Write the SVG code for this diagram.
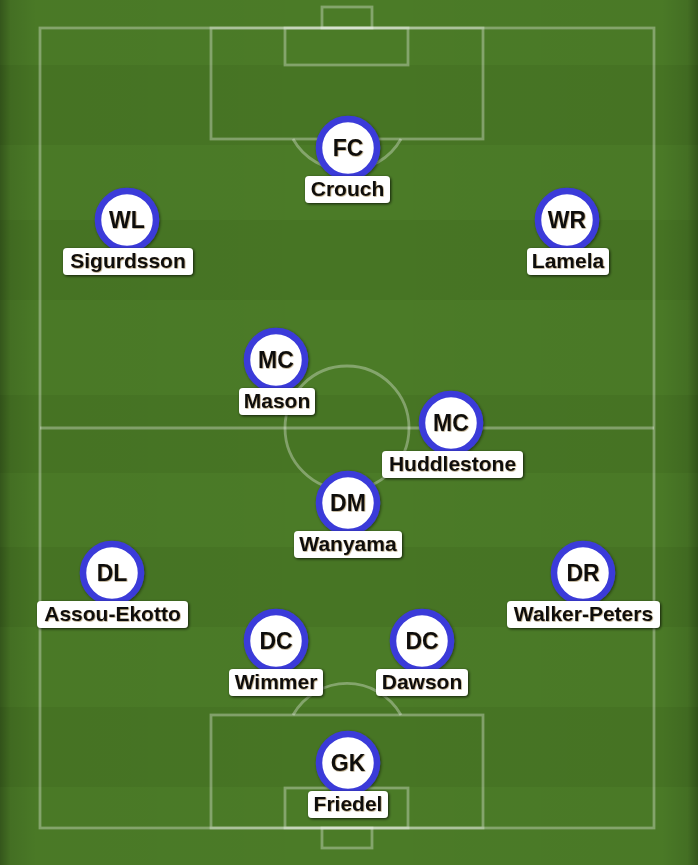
<svg xmlns="http://www.w3.org/2000/svg" width="698" height="865" viewBox="0 0 698 865">
<defs>
<style>
.line{fill:none;stroke:#ffffff;stroke-opacity:0.32;stroke-width:2.8}
.ring{fill:#ffffff;stroke:#3b3bd9;stroke-width:6.5}
.pos{font-family:"Liberation Sans",Arial,sans-serif;font-weight:bold;font-size:23px;fill:#111;text-anchor:middle}
.box{fill:#ffffff}
.name{font-family:"Liberation Sans",Arial,sans-serif;font-weight:bold;font-size:21px;fill:#111;text-anchor:middle}
.sa{fill:#4b7b27}
.sb{fill:#477524}
</style>
<linearGradient id="edge" x1="0" y1="0" x2="1" y2="0">
<stop offset="0" stop-color="#000" stop-opacity="0.3"/>
<stop offset="0.015" stop-color="#000" stop-opacity="0.1"/>
<stop offset="0.05" stop-color="#000" stop-opacity="0.02"/>
<stop offset="0.5" stop-color="#000" stop-opacity="0"/>
<stop offset="0.95" stop-color="#000" stop-opacity="0.02"/>
<stop offset="0.985" stop-color="#000" stop-opacity="0.1"/>
<stop offset="1" stop-color="#000" stop-opacity="0.3"/>
</linearGradient>
<filter id="sh" x="-20%" y="-40%" width="140%" height="180%">
<feDropShadow dx="1" dy="1" stdDeviation="1.5" flood-color="#000" flood-opacity="0.75"/>
</filter>
<filter id="rs" x="-20%" y="-20%" width="140%" height="140%">
<feDropShadow dx="1" dy="1" stdDeviation="1.5" flood-color="#000" flood-opacity="0.5"/>
</filter>
<filter id="ts" x="-10%" y="-10%" width="120%" height="130%">
<feDropShadow dx="0.6" dy="0.6" stdDeviation="0.4" flood-color="#640" flood-opacity="0.6"/>
</filter>
</defs>
<g id="pitch">
<rect x="0" y="0" width="698" height="865" class="sa"/>
<rect x="0" y="65" width="698" height="80" class="sb"/>
<rect x="0" y="220" width="698" height="80" class="sb"/>
<rect x="0" y="395" width="698" height="78" class="sb"/>
<rect x="0" y="547" width="698" height="80" class="sb"/>
<rect x="0" y="707" width="698" height="80" class="sb"/>
<rect x="0" y="0" width="698" height="865" fill="url(#edge)"/>
<rect x="40" y="28" width="614" height="800" class="line"/>
<line x1="40" y1="428" x2="654" y2="428" class="line"/>
<circle cx="347" cy="428" r="62" class="line"/>
<rect x="211" y="28" width="272" height="111" class="line"/>
<rect x="285" y="28" width="123" height="37" class="line"/>
<rect x="322" y="7" width="50" height="21" class="line"/>
<path d="M293,139 A62,62 0 0 0 401,139" class="line"/>
<rect x="211" y="715" width="272" height="113" class="line"/>
<rect x="285" y="788" width="123" height="40" class="line"/>
<rect x="322" y="828" width="50" height="20" class="line"/>
<path d="M293,715 A62,62 0 0 1 401,715" class="line"/>
</g>
<g id="connectors"></g>
<g id="fc"><circle cx="348" cy="148" r="29" class="ring" filter="url(#rs)"/><text x="348" y="156" class="pos" filter="url(#ts)">FC</text><rect x="305" y="176" width="85" height="27" rx="4" class="box" filter="url(#sh)"/><text x="347.5" y="196" class="name" filter="url(#ts)">Crouch</text></g>
<g id="wl"><circle cx="127" cy="220" r="29" class="ring" filter="url(#rs)"/><text x="127" y="228" class="pos" filter="url(#ts)">WL</text><rect x="63" y="248" width="130" height="27" rx="4" class="box" filter="url(#sh)"/><text x="128" y="268" class="name" filter="url(#ts)">Sigurdsson</text></g>
<g id="wr"><circle cx="567" cy="220" r="29" class="ring" filter="url(#rs)"/><text x="567" y="228" class="pos" filter="url(#ts)">WR</text><rect x="527" y="248" width="82" height="27" rx="4" class="box" filter="url(#sh)"/><text x="568" y="268" class="name" filter="url(#ts)">Lamela</text></g>
<g id="mcl"><circle cx="276" cy="360" r="29" class="ring" filter="url(#rs)"/><text x="276" y="368" class="pos" filter="url(#ts)">MC</text><rect x="239" y="388" width="76" height="27" rx="4" class="box" filter="url(#sh)"/><text x="277" y="408" class="name" filter="url(#ts)">Mason</text></g>
<g id="mcr"><circle cx="451" cy="423" r="29" class="ring" filter="url(#rs)"/><text x="451" y="431" class="pos" filter="url(#ts)">MC</text><rect x="382" y="451" width="141" height="27" rx="4" class="box" filter="url(#sh)"/><text x="452.5" y="471" class="name" filter="url(#ts)">Huddlestone</text></g>
<g id="dm"><circle cx="348" cy="503" r="29" class="ring" filter="url(#rs)"/><text x="348" y="511" class="pos" filter="url(#ts)">DM</text><rect x="294" y="531" width="108" height="27" rx="4" class="box" filter="url(#sh)"/><text x="348" y="551" class="name" filter="url(#ts)">Wanyama</text></g>
<g id="dl"><circle cx="112" cy="573" r="29" class="ring" filter="url(#rs)"/><text x="112" y="581" class="pos" filter="url(#ts)">DL</text><rect x="37" y="601" width="151" height="27" rx="4" class="box" filter="url(#sh)"/><text x="112.5" y="621" class="name" filter="url(#ts)">Assou-Ekotto</text></g>
<g id="dr"><circle cx="583" cy="573" r="29" class="ring" filter="url(#rs)"/><text x="583" y="581" class="pos" filter="url(#ts)">DR</text><rect x="507" y="601" width="153" height="27" rx="4" class="box" filter="url(#sh)"/><text x="583.5" y="621" class="name" filter="url(#ts)">Walker-Peters</text></g>
<g id="dcl"><circle cx="276" cy="641" r="29" class="ring" filter="url(#rs)"/><text x="276" y="649" class="pos" filter="url(#ts)">DC</text><rect x="229" y="669" width="94" height="27" rx="4" class="box" filter="url(#sh)"/><text x="276" y="689" class="name" filter="url(#ts)">Wimmer</text></g>
<g id="dcr"><circle cx="422" cy="641" r="29" class="ring" filter="url(#rs)"/><text x="422" y="649" class="pos" filter="url(#ts)">DC</text><rect x="376" y="669" width="92" height="27" rx="4" class="box" filter="url(#sh)"/><text x="422" y="689" class="name" filter="url(#ts)">Dawson</text></g>
<g id="gk"><circle cx="348" cy="763" r="29" class="ring" filter="url(#rs)"/><text x="348" y="771" class="pos" filter="url(#ts)">GK</text><rect x="308" y="791" width="80" height="27" rx="4" class="box" filter="url(#sh)"/><text x="348" y="811" class="name" filter="url(#ts)">Friedel</text></g>
</svg>
